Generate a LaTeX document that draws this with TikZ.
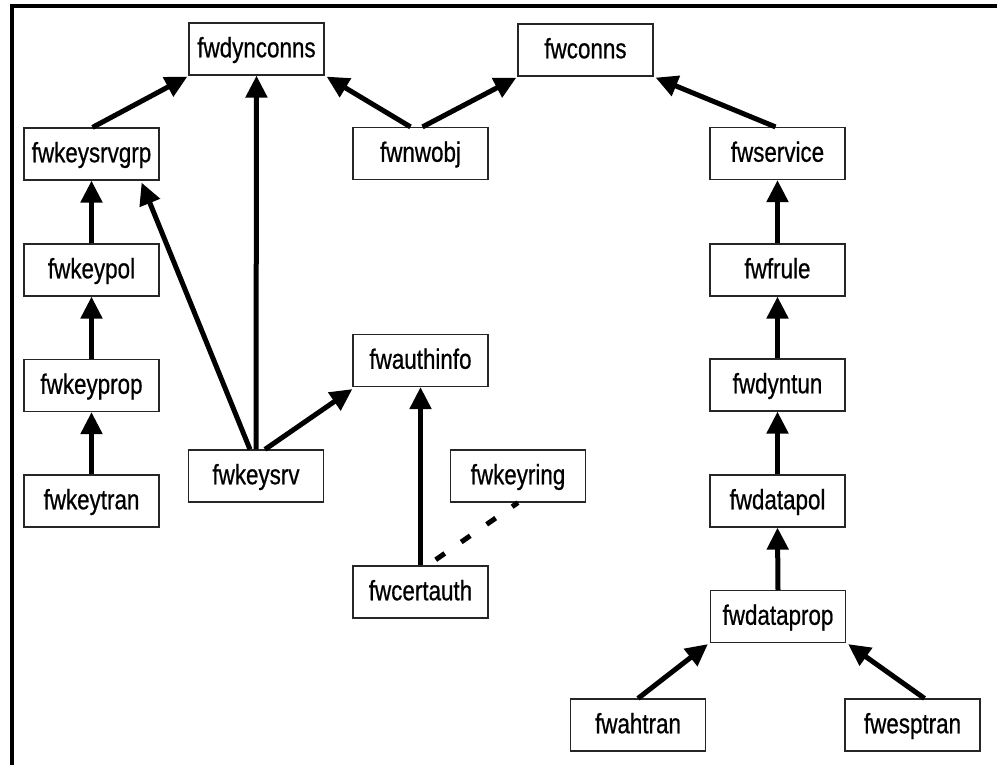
\documentclass[tikz,border=0pt]{standalone}
\usepackage{fontspec}
\setmainfont{Liberation Sans}[FakeStretch=0.8, FakeBold=0.6]
\usetikzlibrary{arrows.meta}
\begin{document}
\begin{tikzpicture}[x=1pt,y=-1pt,
  cls/.style={draw=black!85, line width=1.2pt, fill=white,
    minimum width=135pt, minimum height=52pt, inner sep=0pt,
    text height=22pt, text depth=5.5pt, font=\fontsize{28}{30}\selectfont},
  inherit/.style={line width=5pt, -{Triangle[length=22pt,width=21pt]}},
  assoc/.style={line width=5pt, dash pattern=on 11pt off 20pt},
  framerule/.style={line width=4pt}]
\useasboundingbox (0,0) rectangle (997,764);

% open frame: left and top rules
\draw[framerule] (12,766) -- (12,6) -- (999,6);

% classes
\node[cls] (fwdynconns)  at (256.5,49)   {fwdynconns};
\node[cls] (fwconns)     at (585.5,50)   {fwconns};
\node[cls] (fwkeysrvgrp) at (91.5,154)   {fwkeysrvgrp};
\node[cls] (fwnwobj)     at (420.5,153.5){fwnwobj};
\node[cls] (fwservice)   at (777.5,153.5){fwservice};
\node[cls] (fwkeypol)    at (91.5,270)   {fwkeypol};
\node[cls] (fwfrule)     at (777.5,270)  {fwfrule};
\node[cls] (fwauthinfo)  at (420.5,360.5){fwauthinfo};
\node[cls] (fwkeyprop)   at (91.5,385.5) {fwkeyprop};
\node[cls] (fwdyntun)    at (777.5,385)  {fwdyntun};
\node[cls] (fwkeytran)   at (91.5,501)   {fwkeytran};
\node[cls] (fwkeysrv)    at (256,476)    {fwkeysrv};
\node[cls] (fwkeyring)   at (518,476)    {fwkeyring};
\node[cls] (fwdatapol)   at (777.5,501)  {fwdatapol};
\node[cls] (fwcertauth)  at (420.5,592)  {fwcertauth};
\node[cls] (fwdataprop)  at (778,616.5)  {fwdataprop};
\node[cls] (fwahtran)    at (638,725)    {fwahtran};
\node[cls] (fwesptran)   at (912.5,725)  {fwesptran};

% inheritance
\draw[inherit] ([xshift=1pt]fwkeysrvgrp.north) -- ([xshift=-1pt,yshift=-1pt]fwdynconns.south west);
\draw[inherit] (fwkeysrv.north) -- (fwdynconns.south);
\draw[inherit] ([xshift=-6pt]fwkeysrv.north) -- ([xshift=-18pt,yshift=-2pt]fwkeysrvgrp.south east);
\draw[inherit] ([xshift=9pt]fwkeysrv.north) -- ([yshift=-2pt]fwauthinfo.south west);
\draw[inherit] ([xshift=-10pt]fwnwobj.north) -- ([xshift=2pt,yshift=-1pt]fwdynconns.south east);
\draw[inherit] ([xshift=2pt]fwnwobj.north) -- ([xshift=-1pt,yshift=-1pt]fwconns.south west);
\draw[inherit] ([xshift=-2pt]fwservice.north) -- ([xshift=2pt,yshift=-1pt]fwconns.south east);
\draw[inherit] (fwkeypol.north) -- (fwkeysrvgrp.south);
\draw[inherit] (fwkeyprop.north) -- (fwkeypol.south);
\draw[inherit] (fwkeytran.north) -- (fwkeyprop.south);
\draw[inherit] (fwcertauth.north) -- (fwauthinfo.south);
\draw[inherit] (fwfrule.north) -- (fwservice.south);
\draw[inherit] (fwdyntun.north) -- (fwfrule.south);
\draw[inherit] (fwdatapol.north) -- (fwdyntun.south);
\draw[inherit] (fwdataprop.north) -- (fwdatapol.south);
\draw[inherit] (fwahtran.north) -- ([xshift=-2pt,yshift=-1pt]fwdataprop.south west);
\draw[inherit] ([xshift=12pt]fwesptran.north) -- ([xshift=2pt,yshift=-1pt]fwdataprop.south east);

% association
\draw[assoc, shorten <=10pt] ([xshift=7pt]fwcertauth.north) -- (fwkeyring.south);
\end{tikzpicture}
\end{document}
